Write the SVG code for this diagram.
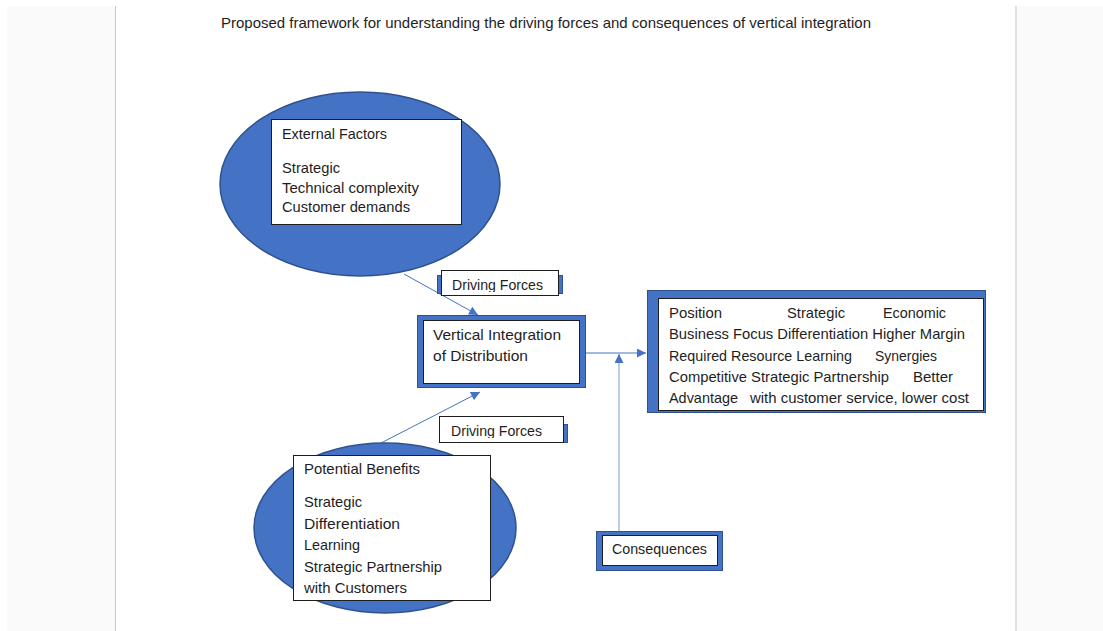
<svg xmlns="http://www.w3.org/2000/svg" width="1103" height="631" viewBox="0 0 1103 631">
  <style>
    text { font-family: "Liberation Sans", Arial, sans-serif; font-size: 15px; fill: #1e1e1e; }
    .ell { fill: #4472C4; stroke: #2F528F; stroke-width: 1.5; }
    .box { fill: #ffffff; stroke: #1e1e1e; stroke-width: 1; }
    .band { fill: #4472C4; stroke: #2F528F; stroke-width: 1; }
    .link { fill: none; stroke: #4472C4; stroke-width: 1; }
    .link-light { fill: none; stroke: #8FAADC; stroke-width: 1.2; }
  </style>
  <defs>
    <marker id="arrow" viewBox="0 0 10 10" refX="10" refY="5" markerWidth="10" markerHeight="9" markerUnits="userSpaceOnUse" orient="auto">
      <path d="M0,0 L10,5 L0,10 Z" fill="#4472C4"/>
    </marker>
    <clipPath id="clipDF1"><rect x="441" y="270" width="118" height="22"/></clipPath>
    <clipPath id="clipDF2"><rect x="439" y="416" width="124" height="22"/></clipPath>
  </defs>

  <!-- page background -->
  <rect x="0" y="0" width="1103" height="631" fill="#ffffff"/>
  <rect x="7" y="6" width="108" height="625" fill="#fafafa"/>
  <rect x="1017" y="6" width="86" height="625" fill="#fafafa"/>
  <line x1="115.5" y1="6" x2="115.5" y2="631" stroke="#c8c8c8" stroke-width="1"/>
  <line x1="1016" y1="6" x2="1016" y2="631" stroke="#e2e2e2" stroke-width="2"/>

  <text x="221" y="28" textLength="650" lengthAdjust="spacingAndGlyphs">Proposed framework for understanding the driving forces and consequences of vertical integration</text>

  <!-- connectors -->
  <g id="connectors">
    <line class="link" x1="404" y1="274" x2="478" y2="315" marker-end="url(#arrow)"/>
    <line class="link" x1="381" y1="443" x2="480" y2="392" marker-end="url(#arrow)"/>
    <line class="link" x1="585" y1="353" x2="646" y2="353" marker-end="url(#arrow)"/>
    <line class="link-light" x1="619" y1="531" x2="619" y2="354" marker-end="url(#arrow)"/>
  </g>

  <!-- external factors -->
  <g id="external-factors">
    <ellipse class="ell" cx="360" cy="184" rx="140" ry="92"/>
    <rect class="box" x="271.5" y="119.5" width="190" height="105"/>
    <text x="282" y="139" textLength="105" lengthAdjust="spacingAndGlyphs">External Factors</text>
    <text x="282" y="173" textLength="58" lengthAdjust="spacingAndGlyphs">Strategic</text>
    <text x="282" y="193" textLength="137" lengthAdjust="spacingAndGlyphs">Technical complexity</text>
    <text x="282" y="212" textLength="128" lengthAdjust="spacingAndGlyphs">Customer demands</text>
  </g>

  <!-- driving forces (upper) -->
  <g id="driving-forces-1">
    <rect class="band" x="437.5" y="275.5" width="125" height="18"/>
    <rect class="box" x="441.5" y="270.5" width="117" height="25"/>
    <text x="452" y="290" textLength="91" lengthAdjust="spacingAndGlyphs" clip-path="url(#clipDF1)">Driving Forces</text>
  </g>

  <!-- vertical integration -->
  <g id="vertical-integration">
    <rect class="band" x="417.5" y="315.5" width="168" height="72"/>
    <rect class="box" x="423.5" y="320.5" width="156" height="63"/>
    <text x="433" y="340" textLength="128" lengthAdjust="spacingAndGlyphs">Vertical Integration</text>
    <text x="433" y="361" textLength="95" lengthAdjust="spacingAndGlyphs">of Distribution</text>
  </g>

  <!-- outcomes -->
  <g id="outcomes">
    <rect class="band" x="647.5" y="290.5" width="338" height="122"/>
    <rect class="box" x="658.5" y="298.5" width="325" height="112"/>
    <text x="669" y="318" textLength="53" lengthAdjust="spacingAndGlyphs">Position</text>
    <text x="787" y="318" textLength="58" lengthAdjust="spacingAndGlyphs">Strategic</text>
    <text x="883" y="318" textLength="63" lengthAdjust="spacingAndGlyphs">Economic</text>
    <text x="669" y="339" textLength="296" lengthAdjust="spacingAndGlyphs">Business Focus Differentiation Higher Margin</text>
    <text x="669" y="361" textLength="183" lengthAdjust="spacingAndGlyphs">Required Resource Learning</text>
    <text x="875" y="361" textLength="62" lengthAdjust="spacingAndGlyphs">Synergies</text>
    <text x="669" y="382" textLength="220" lengthAdjust="spacingAndGlyphs">Competitive Strategic Partnership</text>
    <text x="913" y="382" textLength="40" lengthAdjust="spacingAndGlyphs">Better</text>
    <text x="669" y="403" textLength="69" lengthAdjust="spacingAndGlyphs">Advantage</text>
    <text x="750" y="403" textLength="219" lengthAdjust="spacingAndGlyphs">with customer service, lower cost</text>
  </g>

  <!-- driving forces (lower) -->
  <g id="driving-forces-2">
    <rect class="band" x="559.5" y="424.5" width="8" height="18"/>
    <rect class="box" x="439.5" y="416.5" width="124" height="26"/>
    <text x="451" y="436" textLength="91" lengthAdjust="spacingAndGlyphs" clip-path="url(#clipDF2)">Driving Forces</text>
  </g>

  <!-- potential benefits -->
  <g id="potential-benefits">
    <ellipse class="ell" cx="385" cy="528" rx="131" ry="85"/>
    <rect class="box" x="293.5" y="455.5" width="197" height="145"/>
    <text x="304" y="474" textLength="116" lengthAdjust="spacingAndGlyphs">Potential Benefits</text>
    <text x="304" y="507" textLength="58" lengthAdjust="spacingAndGlyphs">Strategic</text>
    <text x="304" y="529" textLength="96" lengthAdjust="spacingAndGlyphs">Differentiation</text>
    <text x="304" y="550" textLength="56" lengthAdjust="spacingAndGlyphs">Learning</text>
    <text x="304" y="572" textLength="138" lengthAdjust="spacingAndGlyphs">Strategic Partnership</text>
    <text x="304" y="593" textLength="103" lengthAdjust="spacingAndGlyphs">with Customers</text>
  </g>

  <!-- consequences -->
  <g id="consequences">
    <rect class="band" x="596.5" y="531.5" width="126" height="39"/>
    <rect class="box" x="602.5" y="535.5" width="115" height="30"/>
    <text x="612" y="554" textLength="95" lengthAdjust="spacingAndGlyphs">Consequences</text>
  </g>
</svg>
